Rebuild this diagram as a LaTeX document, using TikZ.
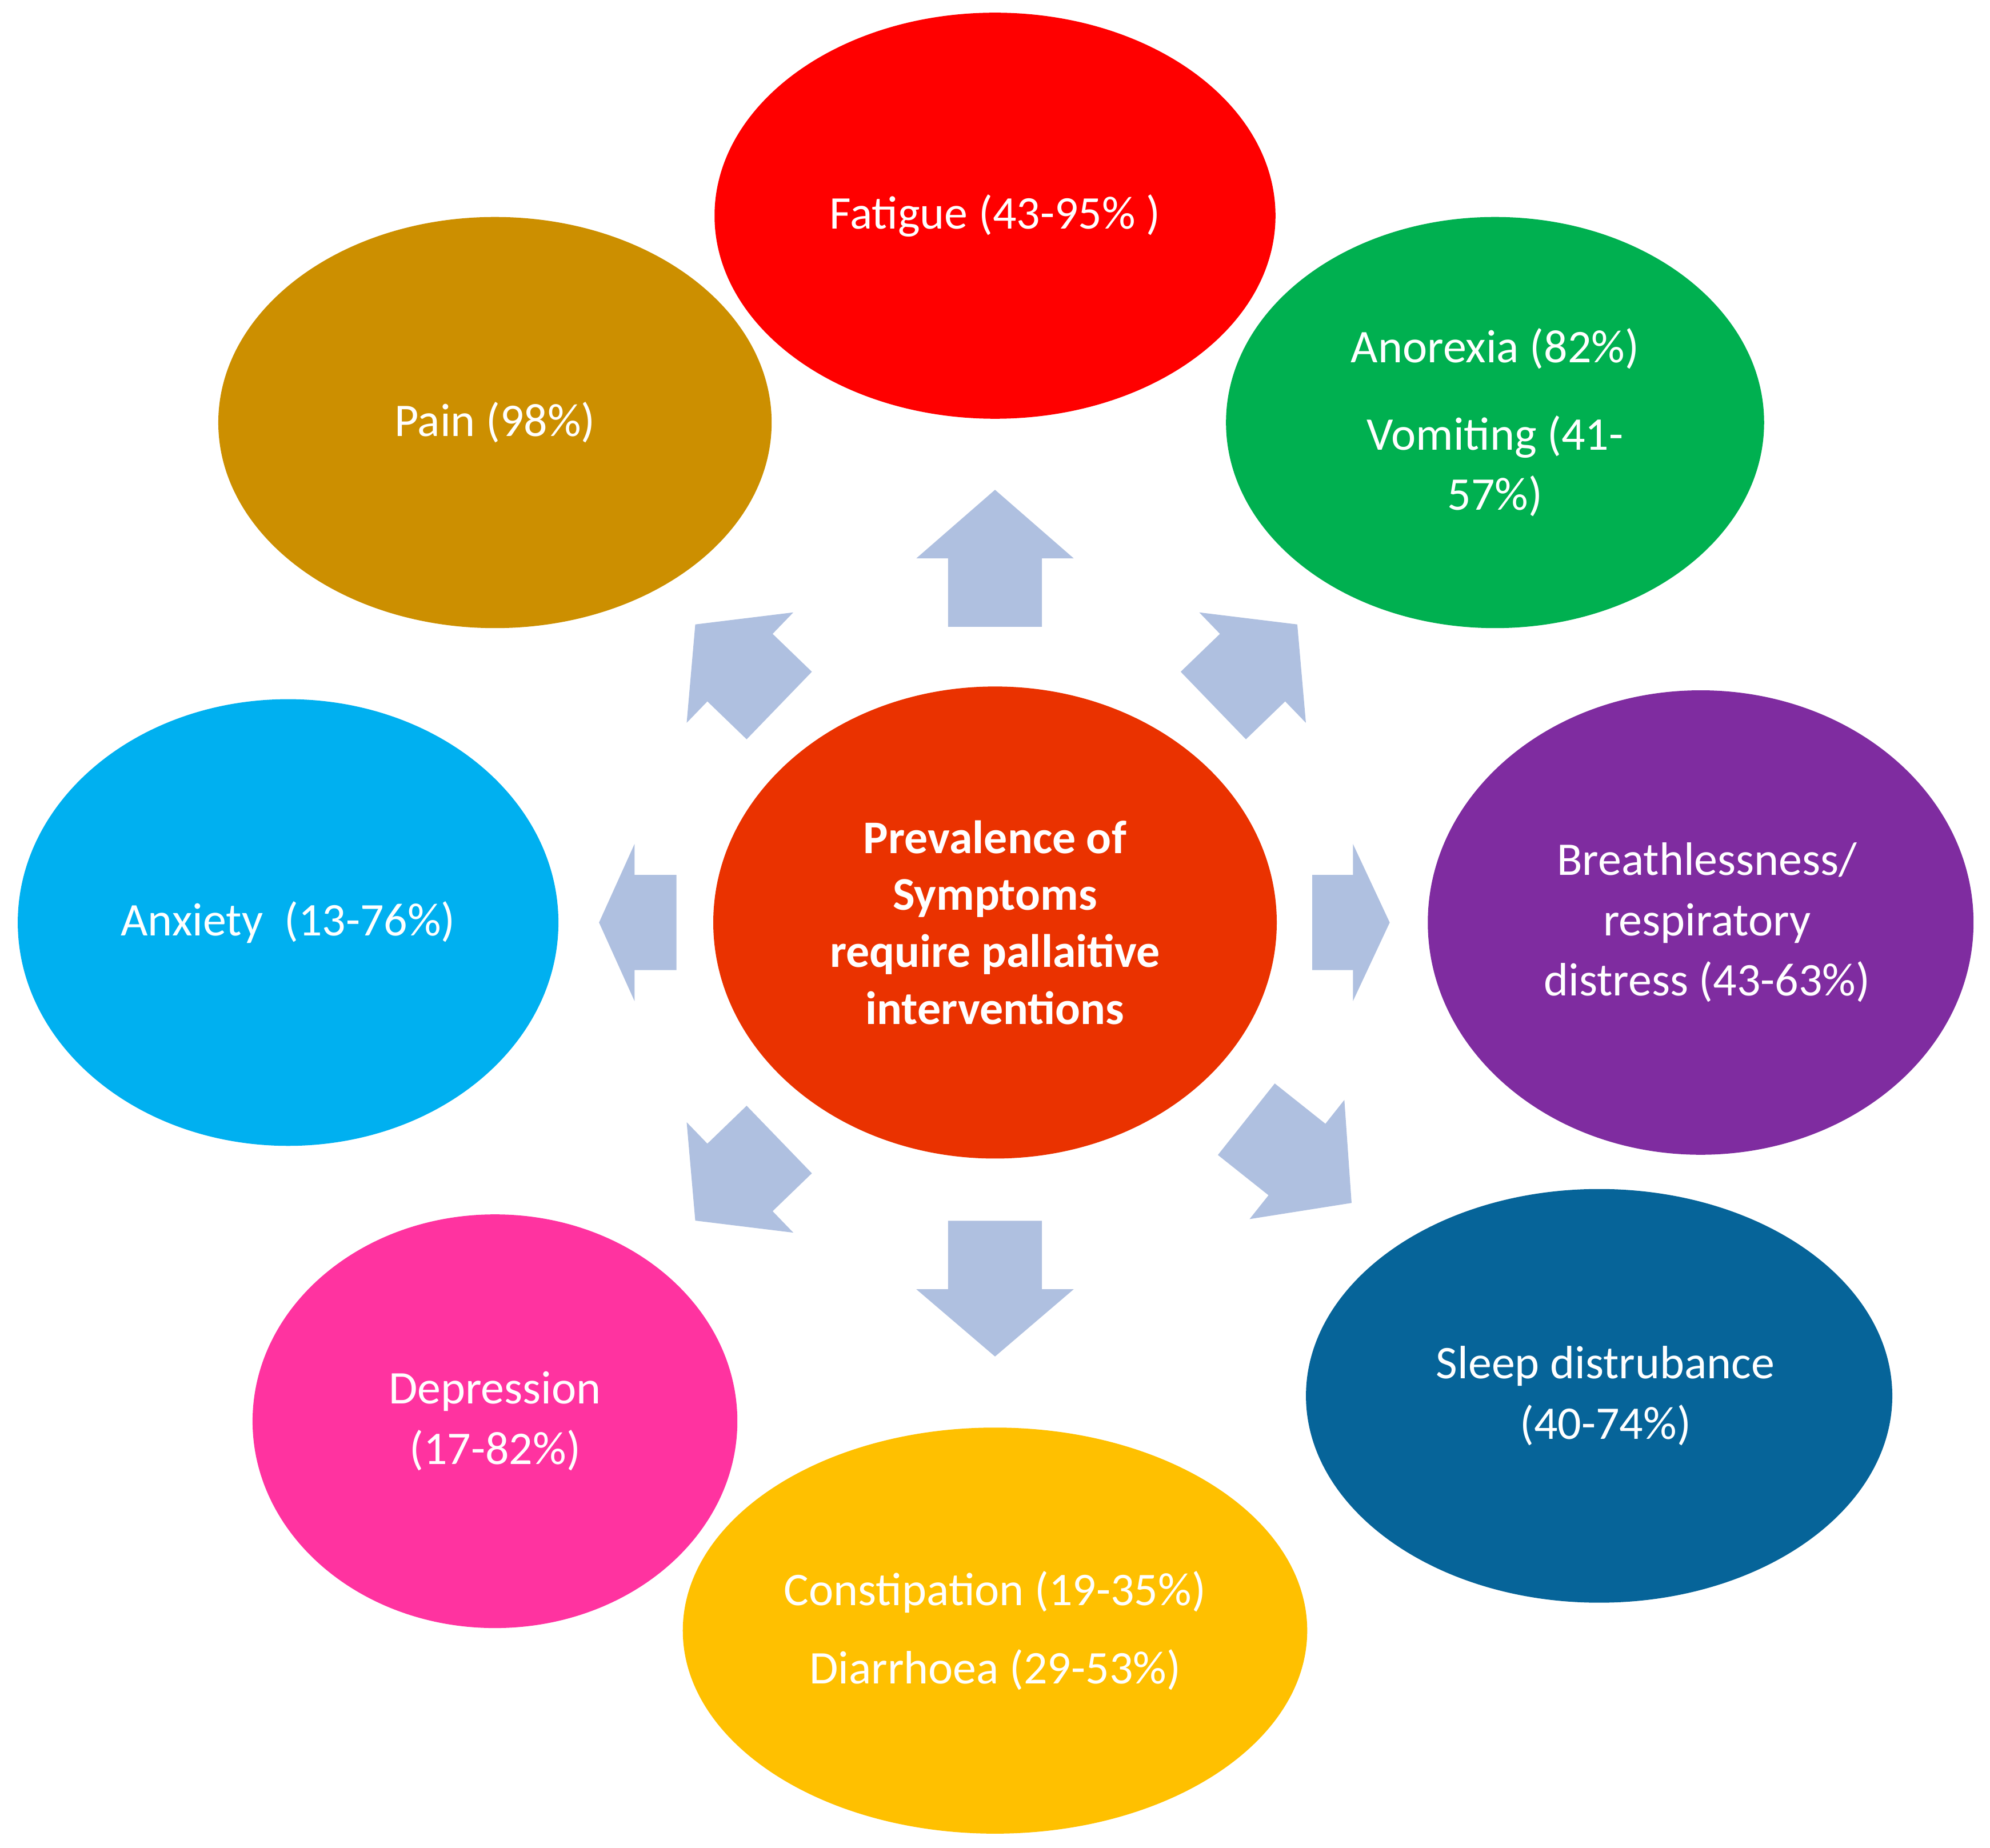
\documentclass[tikz,border=0pt]{standalone}
\usepackage{fontspec}
\setmainfont{Carlito}
\begin{document}
\begin{tikzpicture}
\definecolor{cfat}{HTML}{FF0000}
\definecolor{cpain}{HTML}{CC8F00}
\definecolor{cano}{HTML}{00B050}
\definecolor{ccen}{HTML}{EA3200}
\definecolor{canx}{HTML}{00B0F0}
\definecolor{cbre}{HTML}{7F2CA0}
\definecolor{cdep}{HTML}{FF33A0}
\definecolor{csle}{HTML}{066499}
\definecolor{ccon}{HTML}{FFC000}
\definecolor{carr}{HTML}{AFC0E0}
\tikzset{lbl/.style={text=white,align=center,font=\fontsize{10.5}{13.5}\selectfont}}
\useasboundingbox (0,0) rectangle (15.68,-14.56);
\newcommand\barrow[7]{\fill[carr,shift={#1},rotate=#2] (0,-#5/2) -- (#3-#4,-#5/2) -- (#3-#4,-#6/2) -- (#3,0) -- (#3-#4,#6/2) -- (#3-#4,#5/2) -- (0,#5/2) -- cycle;}
% ellipses
\fill[cfat] (7.84,-1.70) ellipse [x radius=2.21,y radius=1.60];
\fill[cpain] (3.90,-3.33) ellipse [x radius=2.18,y radius=1.62];
\fill[cano] (11.78,-3.33) ellipse [x radius=2.12,y radius=1.62];
\fill[ccen] (7.84,-7.27) ellipse [x radius=2.22,y radius=1.86];
\fill[canx] (2.27,-7.27) ellipse [x radius=2.13,y radius=1.76];
\fill[cbre] (13.40,-7.27) ellipse [x radius=2.15,y radius=1.83];
\fill[cdep] (3.90,-11.20) ellipse [x radius=1.91,y radius=1.63];
\fill[csle] (12.60,-11.00) ellipse [x radius=2.31,y radius=1.63];
\fill[ccon] (7.84,-12.85) ellipse [x radius=2.46,y radius=1.60];
% labels
\node[lbl] (fat) at (7.84,-1.70) {Fatigue (43-95\% )};
\node[lbl] (pain) at (3.90,-3.33) {Pain (98\%)};
\node[lbl] (ano) at (11.78,-3.33) {Anorexia (82\%)\\[6pt]Vomiting (41-\\57\%)};
\node[lbl,font=\bfseries\fontsize{10.5}{12.8}\selectfont] (cen) at (7.84,-7.27) {Prevalence of\\Symptoms\\require pallaitive\\interventions};
\node[lbl] (anx) at (2.27,-7.27) {Anxiety\ \ (13-76\%)};
\node[lbl] (bre) at (13.45,-7.27) {Breathlessness/\\respiratory\\distress (43-63\%)};
\node[lbl] (dep) at (3.90,-11.20) {Depression\\(17-82\%)};
\node[lbl] (sle) at (12.65,-11.00) {Sleep distrubance\\(40-74\%)};
\node[lbl] (con) at (7.84,-12.85) {Constipation (19-35\%)\\[4pt]Diarrhoea (29-53\%)};
% arrows
\barrow{(7.84,-4.94)}{90}{1.08}{0.54}{0.74}{1.24}{}
\barrow{(7.84,-9.62)}{-90}{1.07}{0.53}{0.74}{1.24}{}
\barrow{(5.33,-7.27)}{180}{0.61}{0.28}{0.75}{1.24}{}
\barrow{(10.34,-7.27)}{0}{0.61}{0.29}{0.75}{1.24}{}
\barrow{(6.14,-5.56)}{136}{0.92}{0.49}{0.74}{1.21}{}
\barrow{(9.56,-5.56)}{44}{0.92}{0.49}{0.74}{1.21}{}
\barrow{(6.14,-8.98)}{224}{0.92}{0.49}{0.74}{1.21}{}
\barrow{(9.82,-8.82)}{-38.5}{1.06}{0.55}{0.72}{1.20}{}
\end{tikzpicture}
\end{document}
